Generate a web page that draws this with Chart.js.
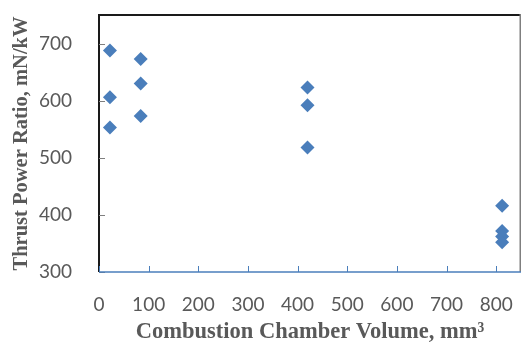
<!DOCTYPE html>
<html>
<head>
<meta charset="utf-8">
<script src="https://cdn.jsdelivr.net/npm/chart.js@4/dist/chart.umd.min.js"></script>
<style>
html,body{margin:0;padding:0;background:#fff;}
#wrap{width:522px;height:348px;}
</style>
</head>
<body>
<div id="wrap"><canvas id="c" width="522" height="348"></canvas></div>
<script>
const volumes = [22, 22, 22, 84, 84, 84, 420, 420, 420, 812, 812, 812, 812];
const ratios  = [688, 606, 553, 673, 630, 573, 623, 592, 518, 416, 372, 362, 352];
const xTicks = [0, 100, 200, 300, 400, 500, 600, 700, 800];
const yTicks = [300, 400, 500, 600, 700];
const xTitle = 'Combustion Chamber Volume, mm³';
const yTitle = 'Thrust Power Ratio, mN/kW';

const points = volumes.map((v, i) => ({x: v, y: ratios[i]}));

const framePlugin = {
  id: 'frame',
  afterDraw(chart) {
    const ctx = chart.ctx, a = chart.chartArea;
    const xs = chart.scales.x, ys = chart.scales.y;
    ctx.save();
    ctx.strokeStyle = '#1a1a1a'; ctx.lineWidth = 2;
    ctx.beginPath(); ctx.moveTo(a.left - 1, a.top); ctx.lineTo(a.right, a.top); ctx.stroke();
    ctx.beginPath(); ctx.moveTo(a.left, a.top - 1); ctx.lineTo(a.left, a.bottom); ctx.stroke();
    ctx.strokeStyle = '#7f7f7f'; ctx.lineWidth = 1.5;
    ctx.beginPath(); ctx.moveTo(a.right - 0.75, a.top - 1); ctx.lineTo(a.right - 0.75, a.bottom); ctx.stroke();
    ctx.strokeStyle = '#7f7f7f'; ctx.lineWidth = 1;
    yTicks.forEach(v => {
      const y = Math.round(ys.getPixelForValue(v)) + 0.5;
      ctx.beginPath(); ctx.moveTo(a.left, y); ctx.lineTo(a.left + 6, y); ctx.stroke();
    });
    ctx.strokeStyle = '#4a7ebb'; ctx.lineWidth = 1.5;
    ctx.beginPath(); ctx.moveTo(a.left, a.bottom); ctx.lineTo(a.right, a.bottom); ctx.stroke();
    ctx.lineWidth = 1;
    xTicks.forEach(v => {
      const x = Math.round(xs.getPixelForValue(v)) + 0.5;
      ctx.beginPath(); ctx.moveTo(x, a.bottom); ctx.lineTo(x, a.bottom - 6); ctx.stroke();
    });
    ctx.restore();
  }
};

new Chart(document.getElementById('c'), {
  type: 'scatter',
  data: {
    datasets: [{
      data: points,
      pointStyle: 'rectRot',
      pointRadius: 7,
      pointHoverRadius: 7,
      backgroundColor: '#4a7ebb',
      borderColor: '#4a7ebb',
      borderWidth: 0
    }]
  },
  options: {
    responsive: false,
    animation: false,
    events: [],
    layout: {autoPadding: false, padding: {left: 0, top: 15, right: 1, bottom: 0}},
    plugins: {legend: {display: false}, tooltip: {enabled: false}},
    scales: {
      x: {
        type: 'linear', min: 0, max: 850,
        afterFit(s) { s.height = 76; s.paddingLeft = 0; s.paddingRight = 0; },
        afterBuildTicks(s) { s.ticks = xTicks.map(v => ({value: v})); },
        grid: {display: false},
        border: {display: false},
        ticks: {padding: 13, color: '#595959', font: {family: 'Lato', size: 19}},
        title: {display: true, text: xTitle, color: '#595959', padding: {top: 5, bottom: 2},
                font: {family: 'Liberation Serif', size: 22.5, weight: 'bold'}}
      },
      y: {
        type: 'linear', min: 300, max: 750,
        afterFit(s) { s.width = 99; s.paddingTop = 0; s.paddingBottom = 0; },
        afterBuildTicks(s) { s.ticks = yTicks.map(v => ({value: v})); },
        grid: {display: false},
        border: {display: false},
        ticks: {padding: 19, color: '#595959', font: {family: 'Lato', size: 19}},
        title: {display: true, text: yTitle, color: '#595959', padding: {top: 9, bottom: 0},
                font: {family: 'Liberation Serif', size: 20.5, weight: 'bold'}}
      }
    }
  },
  plugins: [framePlugin]
});
</script>
</body>
</html>
